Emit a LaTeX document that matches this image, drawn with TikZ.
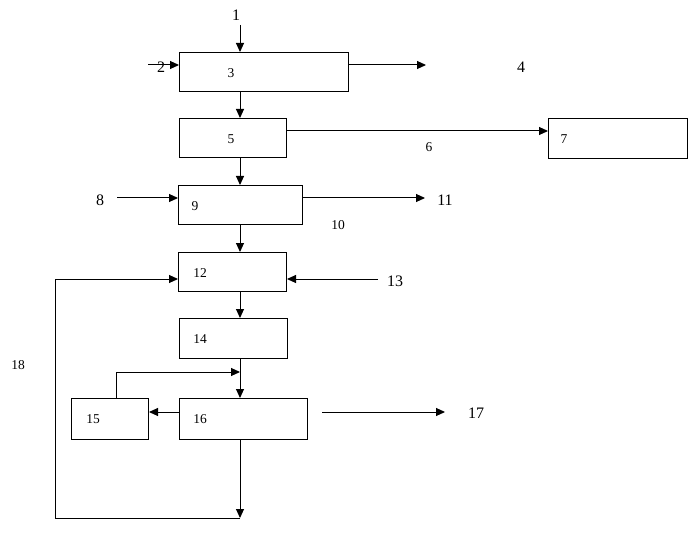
\documentclass[tikz,border=0pt]{standalone}
\usepackage{fontspec}
\setmainfont{Liberation Serif}
\usetikzlibrary{arrows.meta}
\begin{document}
\begin{tikzpicture}[x=1pt,y=-1pt,
  box/.style={draw, line width=1pt, anchor=north west, inner sep=0pt},
  arr/.style={line width=1pt, -{Triangle[length=9pt,width=8pt]}},
  big/.style={inner sep=0pt, font=\fontsize{16}{16}\selectfont},
  small/.style={inner sep=0pt, font=\fontsize{13.5}{13.5}\selectfont}]
\useasboundingbox[fill=white] (0,0) rectangle (700,545);
% boxes
\node[box, minimum width=169pt, minimum height=39pt] (b3) at (179,52) {};
\node[box, minimum width=107pt, minimum height=39pt] (b5) at (179,118) {};
\node[box, minimum width=139pt, minimum height=40pt] (b7) at (548,118) {};
\node[box, minimum width=124pt, minimum height=39pt] (b9) at (178,185) {};
\node[box, minimum width=108pt, minimum height=39pt] (b12) at (178,252) {};
\node[box, minimum width=108pt, minimum height=40pt] (b14) at (179,318) {};
\node[box, minimum width=77pt, minimum height=41pt] (b15) at (71,398) {};
\node[box, minimum width=128pt, minimum height=41pt] (b16) at (179,398) {};
% box labels
\node[small] (t3) at (231,73) {3};
\node[small] (t5) at (231,139) {5};
\node[small] (t7) at (564,139) {7};
\node[small] (t9) at (195,206) {9};
\node[small] (t12) at (200,273) {12};
\node[small] (t14) at (200,339) {14};
\node[small] (t15) at (93,419) {15};
\node[small] (t16) at (200,419) {16};
% free labels
\node[big] (l1) at (236,15) {1};
\node[big] (l4) at (521,67) {4};
\node[small] (l6) at (429,147) {6};
\node[big] (l8) at (100,200) {8};
\node[small] (l10) at (338,225) {10};
\node[big] (l11) at (445,200) {11};
\node[big] (l13) at (395,281) {13};
\node[big] (l17) at (476,413) {17};
\node[small] (l18) at (18,365) {18};
% free ends
\coordinate (c1) at (240,25);
\coordinate (c2) at (148,65);
\coordinate (c4) at (426,65);
\coordinate (c6) at (300,131);
\coordinate (c8) at (117,198);
\coordinate (c11) at (425,198);
\coordinate (c13) at (378,279);
\coordinate (c15) at (116,372);
\coordinate (c16) at (240,412);
\coordinate (c17a) at (322,412);
\coordinate (c17b) at (445,412);
\coordinate (c18a) at (240,518);
\coordinate (c18b) at (55,518);
% connectors
\draw[arr] (c1) -- (c1 |- b3.north);
\node[big] (l2) at (161,67) {2};
\draw[arr] (c2) -- (c2 -| b3.west);
\draw[arr] (b3.east |- c4) -- (c4);
\draw[arr] (b3.south -| c1) -- (b5.north -| c1);
\draw[arr] (b5.east |- c6) -- (b7.west |- c6);
\draw[arr] (b5.south -| c1) -- (b9.north -| c1);
\draw[arr] (c8) -- (c8 -| b9.west);
\draw[arr] (b9.east |- c11) -- (c11);
\draw[arr] (b9.south -| c1) -- (b12.north -| c1);
\draw[arr] (c13) -- (c13 -| b12.east);
\draw[arr] (b12.south -| c1) -- (b14.north -| c1);
\draw[arr] (b14.south -| c1) -- (b16.north -| c1);
\draw[arr] (b15.north -| c15) -- (c15) -- (c15 -| c1);
\draw[arr] (b16.west |- c16) -- (b15.east |- c16);
\draw[arr] (c17a) -- (c17b);
\draw[arr] (b16.south -| c1) -- (c18a);
\draw[arr] (c18a) -- (c18b) -- (c18b |- c13) -- (c13 -| b12.west);
\end{tikzpicture}
\end{document}
